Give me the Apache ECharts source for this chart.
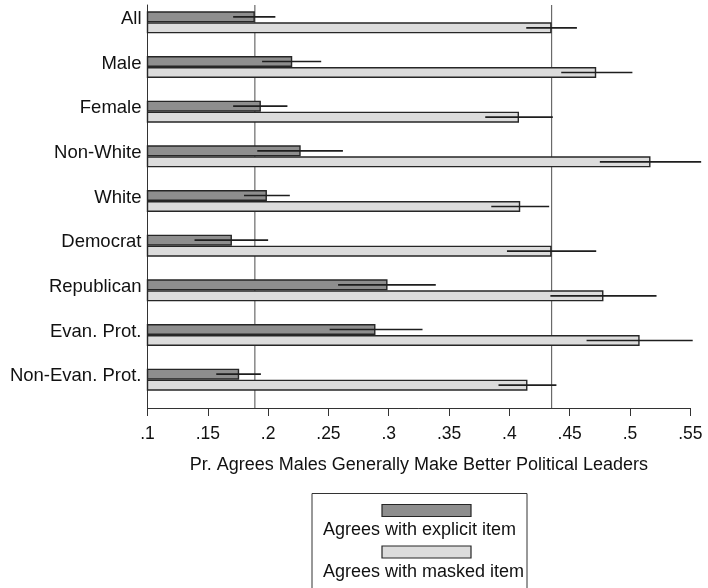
<!DOCTYPE html>
<html>
<head>
<meta charset="utf-8">
<script src="https://cdn.jsdelivr.net/npm/echarts@6/dist/echarts.min.js"></script>
<style>
  html, body { margin: 0; padding: 0; background: #fff; }
  #chart { width: 708px; height: 588px; }
</style>
</head>
<body>
<div id="chart"></div>
<script>
// Groups, top to bottom
const groups = ['All', 'Male', 'Female', 'Non-White', 'White', 'Democrat', 'Republican', 'Evan. Prot.', 'Non-Evan. Prot.'];

// Share agreeing with the explicit item, with 95% interval bounds
const explicitMean = [0.189, 0.220, 0.194, 0.227, 0.199, 0.170, 0.299, 0.289, 0.176];
const explicitLow  = [0.171, 0.195, 0.171, 0.191, 0.180, 0.139, 0.258, 0.251, 0.157];
const explicitHigh = [0.206, 0.244, 0.216, 0.262, 0.218, 0.200, 0.339, 0.328, 0.194];

// Share agreeing with the masked (list experiment) item, with 95% interval bounds
const maskedMean = [0.435, 0.472, 0.408, 0.517, 0.409, 0.435, 0.478, 0.508, 0.415];
const maskedLow  = [0.414, 0.443, 0.380, 0.475, 0.385, 0.398, 0.434, 0.464, 0.391];
const maskedHigh = [0.456, 0.502, 0.436, 0.559, 0.433, 0.472, 0.522, 0.552, 0.439];

const xMin = 0.1, xMax = 0.55, xStep = 0.05;
const xTitle = 'Pr. Agrees Males Generally Make Better Political Leaders';
const legendNames = ['Agrees with explicit item', 'Agrees with masked item'];

const FONT = '"Liberation Sans", Arial, sans-serif';
const BAR_W = 11;
const fmtTick = v => String(Number(v.toFixed(2))).replace(/^0\./, '.');

// error bars drawn across the middle of each bar; side = -1 upper bar, +1 lower bar
function errorBars(side) {
  return function (params, api) {
    const cat = api.value(2);
    const a = api.coord([api.value(0), cat]);
    const b = api.coord([api.value(1), cat]);
    const dy = side * BAR_W / 2;
    return {
      type: 'line',
      shape: { x1: a[0], y1: a[1] + dy, x2: b[0], y2: b[1] + dy },
      style: { stroke: '#1e1e1e', lineWidth: 1.6 }
    };
  };
}

const chart = echarts.init(document.getElementById('chart'), null, { renderer: 'canvas' });

chart.setOption({
  animation: false,
  backgroundColor: '#ffffff',
  textStyle: { fontFamily: FONT },
  grid: [
    { left: 147.5, right: 17.7, top: 0, height: 402 },
    { left: 147.5, right: 17.7, top: 5, height: 403 }
  ],
  xAxis: [
    {
      gridIndex: 0, type: 'value', min: xMin, max: xMax, interval: xStep,
      offset: 6,
      name: xTitle, nameLocation: 'middle', nameGap: 48,
      nameTextStyle: { fontFamily: FONT, fontSize: 18, color: '#111' },
      axisLine: { show: true, lineStyle: { color: '#333', width: 1 } },
      axisTick: { show: true, length: 8, lineStyle: { color: '#333', width: 1 } },
      axisLabel: { formatter: fmtTick, fontFamily: FONT, fontSize: 17.5, color: '#111', margin: 17 },
      splitLine: { show: false }
    },
    {
      gridIndex: 1, type: 'value', min: xMin, max: xMax, interval: xStep, show: false
    }
  ],
  yAxis: [
    {
      gridIndex: 0, type: 'category', data: groups, inverse: true,
      axisLine: { show: false },
      axisTick: { show: false },
      axisLabel: {
        fontFamily: FONT, fontSize: 18.5, color: '#111', margin: 6,
        verticalAlign: 'bottom', lineHeight: 7
      },
      splitLine: { show: false }
    },
    {
      gridIndex: 1, type: 'value', min: 0, max: 1,
      axisLine: { show: true, lineStyle: { color: '#333', width: 1 } },
      axisTick: { show: false }, axisLabel: { show: false }, splitLine: { show: false }
    }
  ],
  series: [
    {
      name: legendNames[0], type: 'bar', xAxisIndex: 0, yAxisIndex: 0,
      data: explicitMean, barWidth: BAR_W, barGap: '0%',
      itemStyle: { color: '#8e8e8e', borderColor: '#262626', borderWidth: 1.4 }
    },
    {
      name: legendNames[1], type: 'bar', xAxisIndex: 0, yAxisIndex: 0,
      data: maskedMean, barWidth: BAR_W, barGap: '0%',
      itemStyle: { color: '#dcdcdc', borderColor: '#262626', borderWidth: 1.4 }
    },
    {
      type: 'custom', xAxisIndex: 0, yAxisIndex: 0, z: 5,
      renderItem: errorBars(-1),
      data: groups.map((g, i) => [explicitLow[i], explicitHigh[i], i])
    },
    {
      type: 'custom', xAxisIndex: 0, yAxisIndex: 0, z: 5,
      renderItem: errorBars(1),
      data: groups.map((g, i) => [maskedLow[i], maskedHigh[i], i])
    },
    {
      // reference lines at the overall explicit and masked shares
      type: 'custom', xAxisIndex: 1, yAxisIndex: 1, z: 1,
      renderItem: function (params, api) {
        const top = api.coord([api.value(0), 1]);
        const bot = api.coord([api.value(0), 0]);
        return {
          type: 'line',
          shape: { x1: top[0], y1: top[1], x2: bot[0], y2: bot[1] },
          style: { stroke: '#6a6a6a', lineWidth: 1.2 }
        };
      },
      data: [[explicitMean[0]], [maskedMean[0]]]
    }
  ],
  graphic: [
    {
      type: 'group', left: 311.5, top: 493,
      children: [
        { type: 'rect', shape: { x: 0, y: 0, width: 215, height: 110 },
          style: { fill: '#fff', stroke: '#333', lineWidth: 1 } },
        { type: 'rect', shape: { x: 70, y: 11, width: 89, height: 12 },
          style: { fill: '#8e8e8e', stroke: '#262626', lineWidth: 1.2 } },
        { type: 'text', x: 11, y: 37,
          style: { text: legendNames[0], font: '18px ' + FONT, fill: '#111', verticalAlign: 'middle' } },
        { type: 'rect', shape: { x: 70, y: 52.5, width: 89, height: 12 },
          style: { fill: '#dcdcdc', stroke: '#262626', lineWidth: 1.2 } },
        { type: 'text', x: 11, y: 78.5,
          style: { text: legendNames[1], font: '18px ' + FONT, fill: '#111', verticalAlign: 'middle' } }
      ]
    }
  ]
});
</script>
</body>
</html>
